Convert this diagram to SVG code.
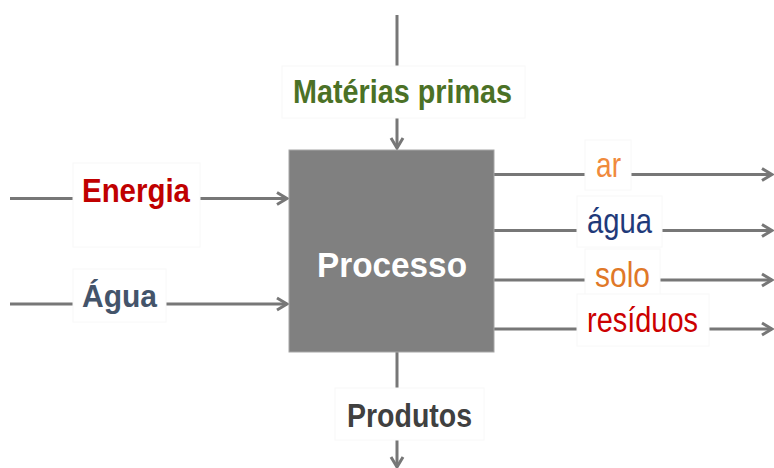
<svg xmlns="http://www.w3.org/2000/svg" width="774" height="468" viewBox="0 0 774 468">
<defs>
<marker id="arr" markerUnits="userSpaceOnUse" markerWidth="16" markerHeight="16" viewBox="-13 -8 16 16" refX="0" refY="0" orient="auto" overflow="visible">
<path d="M-10,-6 L0,0 L-10,6" fill="none" stroke="#777777" stroke-width="3" stroke-linejoin="miter"/>
</marker>
</defs>
<style>
.ln{stroke:#777777;stroke-width:3;fill:none}
.lbl{fill:#ffffff;stroke:#f8f8f8;stroke-width:1}
.b{font-family:"Liberation Sans",Arial,sans-serif;font-weight:bold}
.r{font-family:"Liberation Sans",Arial,sans-serif;font-weight:normal}
</style>
<rect width="774" height="468" fill="#ffffff"/>
<g id="connectors">
<line class="ln" x1="397" y1="15" x2="397" y2="66"/>
<line class="ln" x1="397" y1="118" x2="397" y2="148" marker-end="url(#arr)"/>
<line class="ln" x1="397" y1="352" x2="397" y2="388"/>
<line class="ln" x1="397" y1="440" x2="397" y2="467" marker-end="url(#arr)"/>
<line class="ln" x1="10" y1="198.5" x2="73" y2="198.5"/>
<line class="ln" x1="200" y1="198.5" x2="287" y2="198.5" marker-end="url(#arr)"/>
<line class="ln" x1="10" y1="304" x2="73" y2="304"/>
<line class="ln" x1="166" y1="304" x2="287" y2="304" marker-end="url(#arr)"/>
<line class="ln" x1="494" y1="174.5" x2="585" y2="174.5"/>
<line class="ln" x1="631" y1="174.5" x2="772" y2="174.5" marker-end="url(#arr)"/>
<line class="ln" x1="494" y1="230.5" x2="577" y2="230.5"/>
<line class="ln" x1="662" y1="230.5" x2="772" y2="230.5" marker-end="url(#arr)"/>
<line class="ln" x1="494" y1="280" x2="585" y2="280"/>
<line class="ln" x1="660" y1="280" x2="772" y2="280" marker-end="url(#arr)"/>
<line class="ln" x1="494" y1="329" x2="577" y2="329"/>
<line class="ln" x1="709" y1="329" x2="772" y2="329" marker-end="url(#arr)"/>
</g>
<g id="processo">
<rect x="289" y="150" width="205" height="202" fill="#808080" stroke="#a6a6a6" stroke-width="1"/>
<text class="b" x="317" y="277" font-size="35" fill="#ffffff" textLength="150" lengthAdjust="spacingAndGlyphs">Processo</text>
</g>
<g id="materias">
<rect class="lbl" x="282" y="66" width="243" height="52"/>
<text class="b" x="293" y="103" font-size="33" fill="#4B7126" textLength="219" lengthAdjust="spacingAndGlyphs">Matérias primas</text>
</g>
<g id="produtos">
<rect class="lbl" x="335" y="388" width="149" height="52"/>
<text class="b" x="347" y="427" font-size="33" fill="#404040" textLength="125" lengthAdjust="spacingAndGlyphs">Produtos</text>
</g>
<g id="energia">
<rect class="lbl" x="73" y="163" width="127" height="84"/>
<text class="b" x="82" y="202" font-size="34" fill="#C00000" textLength="108" lengthAdjust="spacingAndGlyphs">Energia</text>
</g>
<g id="agua-in">
<rect class="lbl" x="73" y="269" width="93" height="53"/>
<text class="b" x="82" y="307" font-size="31" fill="#44546A" textLength="75" lengthAdjust="spacingAndGlyphs">Água</text>
</g>
<g id="ar">
<rect class="lbl" x="585" y="140" width="46" height="50"/>
<text class="r" x="596" y="177" font-size="35" fill="#F08A3C" textLength="25" lengthAdjust="spacingAndGlyphs">ar</text>
</g>
<g id="agua-out">
<rect class="lbl" x="577" y="196" width="85" height="51"/>
<text class="r" x="587" y="233" font-size="35" fill="#1F3A7A" textLength="65" lengthAdjust="spacingAndGlyphs">água</text>
</g>
<g id="solo">
<rect class="lbl" x="585" y="249" width="75" height="46"/>
<text class="r" x="595" y="287" font-size="35" fill="#E07828" textLength="55" lengthAdjust="spacingAndGlyphs">solo</text>
</g>
<g id="residuos">
<rect class="lbl" x="577" y="294" width="132" height="52"/>
<text class="r" x="587" y="332" font-size="35" fill="#CC0000" textLength="111" lengthAdjust="spacingAndGlyphs">resíduos</text>
</g>
</svg>
